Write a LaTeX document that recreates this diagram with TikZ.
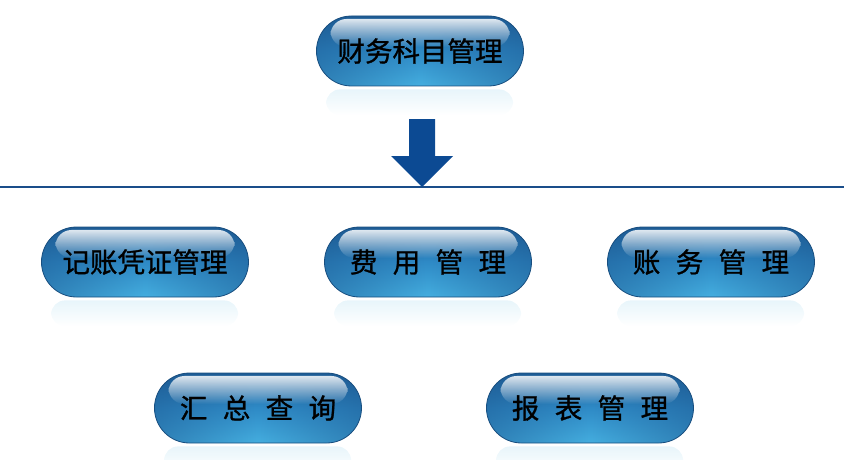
\documentclass[tikz,border=0pt]{standalone}
\usepackage{fontspec}
\newfontfamily\cjk[WordSpace=2.5, FakeBold=1]{Noto Sans CJK SC}
\usetikzlibrary{shapes.misc,fadings}

\definecolor{pilldark}{HTML}{1E5C95}
\definecolor{pillmid}{HTML}{2F8BC7}
\definecolor{pilllight}{HTML}{45AEDF}
\definecolor{arrowblue}{HTML}{0C4A93}
\definecolor{ruleblue}{HTML}{1A4D8A}

\tikzfading[name=glossfade, top color=transparent!15, bottom color=transparent!100]
\tikzfading[name=reflectfade, top color=transparent!0, bottom color=transparent!100]
\tikzfading[name=sidefade, left color=transparent!45, right color=transparent!45, middle color=transparent!100]

\begin{document}
\begin{tikzpicture}[
        x=1pt, y=-1pt,
        % Define styles for consistency
        pill/.style={rounded rectangle, minimum width=207pt, minimum height=70pt, inner sep=0pt,
            top color=pilldark, bottom color=pilllight, middle color=pillmid,
            draw=pilldark!85!black, line width=0.8pt,
            font=\cjk\fontsize{27.5}{27.5}\selectfont,
            path picture={
                % darker ends
                \fill[pilldark, path fading=sidefade]
                    (path picture bounding box.south west) rectangle (path picture bounding box.north east);
                % gloss
                \fill[white, path fading=glossfade, rounded corners=16pt]
                    ([xshift=14pt,yshift=-3pt]path picture bounding box.north west) rectangle
                    ([xshift=-14pt,yshift=4pt]path picture bounding box.east);
            }},
        reflection/.style={pilllight!14, path fading=reflectfade, rounded corners=14pt},
        divider/.style={ruleblue, line width=2.6pt},
        blockarrow/.style={fill=arrowblue}
    ]
        \useasboundingbox (0,0) rectangle (844,460);

        % --- Modules ---
        \node[pill] (subject) at (420,51) {财务科目管理};
        \node[pill] (voucher) at (145,262) {记账凭证管理};
        \node[pill] (expense) at (428,262) {费 用 管 理};
        \node[pill] (account) at (711,262) {账 务 管 理};
        \node[pill] (summary) at (258,408) {汇 总 查 询};
        \node[pill] (report) at (590,408) {报 表 管 理};

        % --- Reflections ---
        \foreach \n in {subject, voucher, expense, account, summary, report}
            \fill[reflection] (\n.west |- \n.south) ++(10,3) rectangle ++(187,26);

        % --- Divider ---
        \coordinate (rule_left) at (0,187);
        \coordinate (rule_right) at (844,187);
        \draw[divider] (rule_left) -- (rule_right);

        % --- Down arrow ---
        \coordinate (arrow_top) at (422,119);
        \coordinate (arrow_tip) at (422,187);
        \fill[blockarrow] ([xshift=-13pt]arrow_top) -- ([xshift=13pt]arrow_top)
            -- ([xshift=13pt,yshift=31pt]arrow_tip) -- ([xshift=31pt,yshift=31pt]arrow_tip)
            -- (arrow_tip)
            -- ([xshift=-31pt,yshift=31pt]arrow_tip) -- ([xshift=-13pt,yshift=31pt]arrow_tip) -- cycle;

    \end{tikzpicture}
\end{document}
